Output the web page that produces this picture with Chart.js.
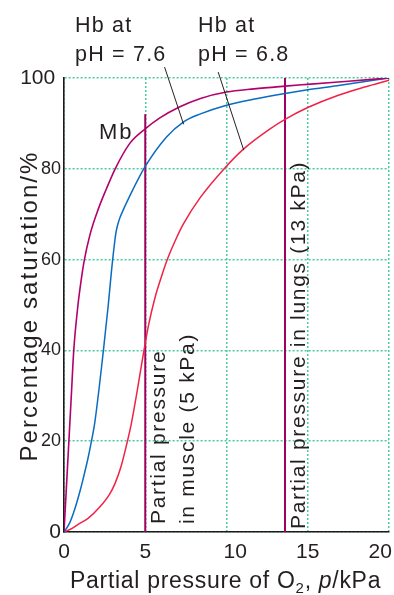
<!DOCTYPE html>
<html>
<head>
<meta charset="utf-8">
<script src="https://cdn.jsdelivr.net/npm/chart.js@4.4.0/dist/chart.umd.min.js"></script>
<style>
  html, body { margin: 0; padding: 0; background: #fff; }
  #wrap { width: 394px; height: 595px; position: relative; }
</style>
</head>
<body>
<div id="wrap"><canvas id="satChart"></canvas></div>
<script>
// Oxygen dissociation curves
const pressureMb = [0, 0.15, 0.3, 0.45, 0.6, 0.86, 1.0, 1.23, 1.6, 2.15, 2.6, 3.15, 4.05, 5, 5.9, 7.1, 8.4, 10, 11.7, 13.6, 15, 17.5, 20];
const satMb = [0, 10, 20, 30, 40, 50, 54, 59.5, 65.5, 71.5, 75.5, 80, 85.6, 88.8, 91.2, 93.6, 95.5, 96.9, 97.6, 98.2, 98.6, 99.3, 100];

const pressureHb76 = [0, 0.35, 0.66, 0.97, 1.17, 1.48, 1.65, 1.89, 2.41, 2.71, 2.98, 3.2, 3.4, 3.64, 3.91, 4.98, 6.31, 7.34, 8.4, 9.9, 11.65, 13.6, 15, 16.8, 20];
const satHb76 = [0, 2, 5, 8.8, 11.6, 16.3, 19.3, 24, 39.5, 49.5, 59.5, 66, 68.8, 70.9, 73, 80.4, 87, 90.3, 92.1, 93.9, 95.3, 96.6, 97.4, 98.3, 100];

const pressureHb68 = [0, 0.5, 0.97, 1.48, 2.2, 2.8, 3.13, 3.5, 3.85, 4.15, 4.5, 4.85, 5.2, 5.59, 6.0, 6.41, 6.85, 7.34, 8.37, 9.9, 11.06, 12.68, 13.6, 15, 16.8, 18.5, 20];
const satHb68 = [0, 0.8, 1.9, 3.0, 5.5, 8.3, 10.6, 14.3, 19.2, 24, 31, 38.5, 45.5, 51.5, 56.3, 60.5, 64.2, 67.8, 73.6, 80.2, 84.4, 88.8, 90.9, 93.5, 96.1, 98, 99.5];

// reference pressures (vertical lines)
const musclePressure = 5;
const muscleTop = 92;
const lungsPressure = 13.6;
const lungsTop = 100;

const xTicks = [0, 5, 10, 15, 20];
const yTicks = [0, 20, 40, 60, 80, 100];

const FONT = '"Liberation Sans", Arial, sans-serif';
const TEXT = '#231f20';
const GRID = '#4cc9a0';

function toPoints(xs, ys) {
    return xs.map((x, i) => ({x: x, y: ys[i]}));
}

// little helper for the labels
function drawText(ctx, str, x, y, size, opts) {
    opts = opts || {};
    ctx.save();
    ctx.translate(x, y);
    if (opts.rotate) ctx.rotate(-Math.PI / 2);
    ctx.font = (opts.style || '') + ' ' + size + 'px ' + FONT;
    ctx.letterSpacing = (opts.spacing || 0) + 'px';
    ctx.textAlign = opts.align || 'left';
    ctx.textBaseline = 'alphabetic';
    ctx.fillStyle = TEXT;
    ctx.fillText(str, 0, 0);
    ctx.restore();
}

const labelsPlugin = {
    id: 'labels',
    afterDatasetsDraw(chart) {
        const {ctx} = chart;
        const x = chart.scales.x, y = chart.scales.y;

        // leader lines from the Hb labels to their curves
        const leaders = [[6.19, 102.4, 7.36, 89.8], [9.49, 101.3, 11.06, 84.1]];
        ctx.save();
        ctx.strokeStyle = TEXT;
        ctx.lineWidth = 1;
        leaders.forEach(l => {
            ctx.beginPath();
            ctx.moveTo(x.getPixelForValue(l[0]), y.getPixelForValue(l[1]));
            ctx.lineTo(x.getPixelForValue(l[2]), y.getPixelForValue(l[3]));
            ctx.stroke();
        });
        ctx.restore();

        drawText(ctx, 'Hb at', 75, 32, 21.5, {spacing: 1.2});
        drawText(ctx, 'pH = 7.6', 75, 61, 21.5, {spacing: 1.2});
        drawText(ctx, 'Hb at', 198, 32, 21.5, {spacing: 1.2});
        drawText(ctx, 'pH = 6.8', 198, 61, 21.5, {spacing: 1.2});
        drawText(ctx, 'Mb', 99, 139, 22, {spacing: 1.8});

        drawText(ctx, 'Partial pressure', 165, 524, 21, {rotate: true, spacing: 1.7});
        drawText(ctx, 'in muscle (5 kPa)', 194, 524, 21, {rotate: true, spacing: 1.7});
        drawText(ctx, 'Partial pressure in lungs (13 kPa)', 305, 529, 21, {rotate: true, spacing: 1.7});

        // axis titles
        drawText(ctx, 'Percentage saturation/%', 37, 306, 24, {rotate: true, spacing: 2.1, align: 'center'});

        const parts = [
            {t: 'Partial pressure of O', size: 23, dy: 0},
            {t: '2', size: 15, dy: 5},
            {t: ', ', size: 23, dy: 0},
            {t: 'p', size: 23, dy: 0, style: 'italic'},
            {t: '/kPa', size: 23, dy: 0}
        ];
        let px = 70;
        parts.forEach(p => {
            drawText(ctx, p.t, px, 588 + p.dy, p.size, {spacing: 0.7, style: p.style});
            ctx.save();
            ctx.font = (p.style || '') + ' ' + p.size + 'px ' + FONT;
            ctx.letterSpacing = '0.7px';
            px += ctx.measureText(p.t).width;
            ctx.restore();
        });
    }
};

const lineStyle = {pointRadius: 0, fill: false, cubicInterpolationMode: 'monotone'};

new Chart(document.getElementById('satChart'), {
    type: 'line',
    data: {
        datasets: [
            Object.assign({label: 'Mb', data: toPoints(pressureMb, satMb), borderColor: '#b3006b', borderWidth: 1.6}, lineStyle),
            Object.assign({label: 'Hb pH 7.6', data: toPoints(pressureHb76, satHb76), borderColor: '#0a6cc0', borderWidth: 1.5}, lineStyle),
            Object.assign({label: 'Hb pH 6.8', data: toPoints(pressureHb68, satHb68), borderColor: '#ef2346', borderWidth: 1.5}, lineStyle),
            {label: 'muscle', data: [{x: musclePressure, y: 0}, {x: musclePressure, y: muscleTop}], borderColor: '#a0005e', borderWidth: 2, pointRadius: 0},
            {label: 'lungs', data: [{x: lungsPressure, y: 0}, {x: lungsPressure, y: lungsTop}], borderColor: '#a0005e', borderWidth: 2, pointRadius: 0}
        ]
    },
    options: {
        responsive: true,
        maintainAspectRatio: false,
        animation: false,
        events: [],
        layout: {padding: {top: 78, right: 5, left: 0, bottom: 0}},
        plugins: {legend: {display: false}, tooltip: {enabled: false}},
        scales: {
            x: {
                type: 'linear', min: 0, max: 20,
                afterBuildTicks: s => { s.ticks = xTicks.map(v => ({value: v})); },
                afterFit: s => { s.height = 63; s.paddingLeft = 0; s.paddingRight = 0; },
                ticks: {
                    font: {size: 21, family: FONT}, color: TEXT, padding: 8,
                    callback: v => v === 10 ? '   10' : (v === 20 ? '20   ' : String(v))
                },
                grid: {color: GRID, lineWidth: 1.5, drawTicks: false},
                border: {color: '#1a1a1a', width: 1.6, dash: [2, 2]}
            },
            y: {
                type: 'linear', min: 0, max: 100,
                afterBuildTicks: s => { s.ticks = yTicks.map(v => ({value: v})); },
                afterFit: s => { s.width = 64; s.paddingTop = 0; s.paddingBottom = 0; },
                ticks: {
                    color: TEXT, padding: 3,
                    font: c => ({size: (c.tick && (c.tick.value === 100 || c.tick.value === 0)) ? 21 : 18, family: FONT}),
                    callback: v => v === 100 ? '100 ' : String(v)
                },
                grid: {color: GRID, lineWidth: 1.5, drawTicks: false},
                border: {color: '#1a1a1a', width: 1.6, dash: [2, 2]}
            }
        }
    },
    plugins: [labelsPlugin]
});
</script>
</body>
</html>
